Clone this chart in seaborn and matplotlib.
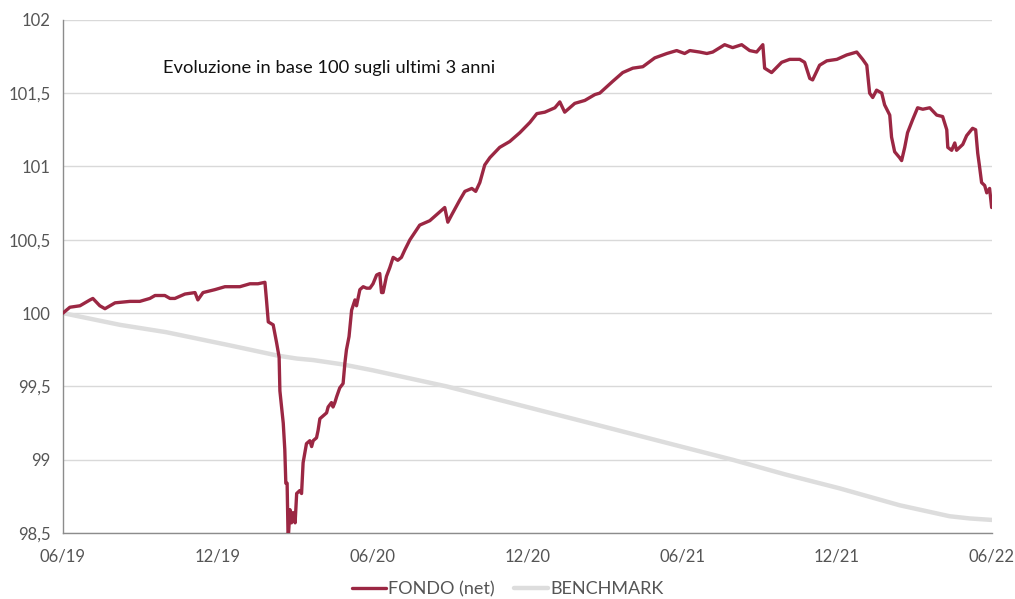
import pandas as pd
import numpy as np
import matplotlib
matplotlib.use("Agg")
import matplotlib.pyplot as plt
import seaborn as sns

sns.set_theme(style="white")
plt.rcParams["font.family"] = ["Lato", "DejaVu Sans"]

# ---------------------------------------------------------------
# DATA (months since 06/19, base 100)
# ---------------------------------------------------------------
fondo_months = [
    0, 0.27, 0.66, 1.05, 1.16, 1.43, 1.63, 2.02, 2.60, 2.98, 3.37, 3.57, 3.95, 4.15, 4.34,
    4.73, 5.12, 5.23, 5.43, 5.89, 6.28, 6.86, 7.25, 7.56, 7.83, 7.89, 7.96, 8.15, 8.28,
    8.38, 8.41, 8.54, 8.60, 8.64, 8.69, 8.73, 8.80, 8.86, 8.92, 9.00, 9.06, 9.18, 9.25,
    9.31, 9.44, 9.57, 9.64, 9.70, 9.83, 9.89, 9.96, 10.09, 10.22, 10.28, 10.41, 10.47,
    10.54, 10.61, 10.73, 10.86, 10.93, 10.99, 11.09, 11.19, 11.32, 11.38, 11.51, 11.64,
    11.77, 11.90, 12.02, 12.16, 12.28, 12.35, 12.41, 12.54, 12.67, 12.80, 12.98, 13.12,
    13.25, 13.45, 13.83, 14.22, 14.61, 14.80, 14.92, 15.07, 15.38, 15.58, 15.85, 16.00,
    16.16, 16.35, 16.55, 16.93, 17.32, 17.71, 18.10, 18.37, 18.68, 19.07, 19.26, 19.45,
    19.84, 20.23, 20.62, 20.81, 21.31, 21.70, 22.09, 22.48, 22.94, 23.41, 23.79, 24.10,
    24.30, 24.68, 24.96, 25.19, 25.65, 25.96, 26.31, 26.62, 26.89, 27.13, 27.20, 27.47,
    27.86, 28.17, 28.56, 28.75, 28.95, 29.06, 29.33, 29.61, 30.00, 30.38, 30.77, 31.00,
    31.16, 31.27, 31.39, 31.54, 31.74, 31.85, 32.05, 32.12, 32.24, 32.43, 32.51, 32.63,
    32.74, 32.94, 33.13, 33.33, 33.60, 33.87, 34.10, 34.26, 34.30, 34.45, 34.57, 34.64,
    34.76, 34.88, 35.03, 35.26, 35.38, 35.46, 35.53, 35.61, 35.73, 35.81, 35.92, 36.00,
]
fondo_values = [
    100.00, 100.04, 100.05, 100.09, 100.10, 100.05, 100.03, 100.07, 100.08, 100.08, 100.10,
    100.12, 100.12, 100.10, 100.10, 100.13, 100.14, 100.09, 100.14, 100.16, 100.18, 100.18,
    100.20, 100.20, 100.21, 100.09, 99.94, 99.92, 99.80, 99.70, 99.47, 99.25, 99.07, 98.84,
    98.84, 98.45, 98.66, 98.57, 98.64, 98.57, 98.77, 98.79, 98.77, 98.98, 99.11, 99.13,
    99.09, 99.13, 99.15, 99.20, 99.28, 99.30, 99.32, 99.36, 99.39, 99.36, 99.39, 99.43,
    99.49, 99.52, 99.66, 99.75, 99.84, 100.02, 100.09, 100.05, 100.16, 100.18, 100.17,
    100.17, 100.20, 100.26, 100.27, 100.14, 100.14, 100.25, 100.31, 100.38, 100.36, 100.38,
    100.43, 100.50, 100.60, 100.63, 100.69, 100.72, 100.62, 100.67, 100.77, 100.83, 100.85,
    100.83, 100.89, 101.01, 101.06, 101.13, 101.17, 101.23, 101.30, 101.36, 101.37, 101.40,
    101.44, 101.37, 101.43, 101.45, 101.49, 101.50, 101.58, 101.64, 101.67, 101.68, 101.74,
    101.77, 101.79, 101.77, 101.79, 101.78, 101.77, 101.78, 101.83, 101.81, 101.83, 101.79,
    101.78, 101.83, 101.67, 101.64, 101.71, 101.73, 101.73, 101.71, 101.60, 101.59, 101.69,
    101.72, 101.73, 101.76, 101.78, 101.73, 101.69, 101.50, 101.47, 101.52, 101.50, 101.42,
    101.35, 101.20, 101.10, 101.06, 101.04, 101.13, 101.23, 101.32, 101.40, 101.39, 101.40,
    101.35, 101.34, 101.25, 101.13, 101.11, 101.16, 101.11, 101.13, 101.15, 101.21, 101.26,
    101.25, 101.09, 101.00, 100.89, 100.87, 100.82, 100.85, 100.72,
]

bench_months = [0, 2.21, 4.0, 6.47, 8.33, 9.07, 9.69, 10.85, 12.01, 14.88, 18.76, 20.81,
                24.03, 25.96, 28.0, 30.11, 32.43, 34.37, 35.15, 36.0]
bench_values = [100.00, 99.92, 99.87, 99.78, 99.71, 99.69, 99.68, 99.65, 99.61, 99.50, 99.325,
                99.233, 99.087, 99.00, 98.90, 98.805, 98.69, 98.615, 98.60, 98.59]

x_ticks = [0, 6, 12, 18, 24, 30, 36]
x_labels = ["06/19", "12/19", "06/20", "12/20", "06/21", "12/21", "06/22"]
y_ticks = [98.5, 99, 99.5, 100, 100.5, 101, 101.5, 102]
y_labels = ["98,5", "99", "99,5", "100", "100,5", "101", "101,5", "102"]

# ---------------------------------------------------------------
# PLOT
# ---------------------------------------------------------------
fig = plt.figure(figsize=(10.15, 5.99), dpi=100)
ax = fig.add_axes([0.062, 0.110, 0.915, 0.857])

sns.lineplot(x=bench_months, y=bench_values, ax=ax, color="#dddddd", linewidth=3.2,
             label="BENCHMARK", zorder=2)
sns.lineplot(x=fondo_months, y=fondo_values, ax=ax, color="#9b2743", linewidth=2.4,
             label="FONDO (net)", zorder=3)

ax.set_xlim(0, 36)
ax.set_ylim(98.5, 102)
ax.set_xticks(x_ticks)
ax.set_xticklabels(x_labels)
ax.set_yticks(y_ticks)
ax.set_yticklabels(y_labels)
ax.set_xlabel("")
ax.set_ylabel("")

ax.grid(axis="y", color="#d9d9d9", linewidth=1)
ax.set_axisbelow(True)
for s in ["top", "right"]:
    ax.spines[s].set_visible(False)
for s in ["left", "bottom"]:
    ax.spines[s].set_color("#8c8c8c")
    ax.spines[s].set_linewidth(1)
ax.tick_params(axis="both", which="both", direction="out", length=5, width=1,
               color="#8c8c8c", labelsize=12, labelcolor="#555555", pad=4)
ax.tick_params(axis="x", pad=6)

ax.text(3.87, 101.67, "Evoluzione in base 100 sugli ultimi 3 anni", fontsize=13.2,
        color="#111111", va="center", ha="left")

handles, labels = ax.get_legend_handles_labels()
ax.get_legend().remove()
order = [labels.index("FONDO (net)"), labels.index("BENCHMARK")]
fig.legend([handles[i] for i in order], [labels[i] for i in order],
           loc="center", bbox_to_anchor=(0.50, 0.016), ncol=2, frameon=False,
           fontsize=13, handlelength=1.9, handletextpad=0.1, columnspacing=1.1,
           labelcolor="#555555")

fig.savefig("out.png", dpi=100)
